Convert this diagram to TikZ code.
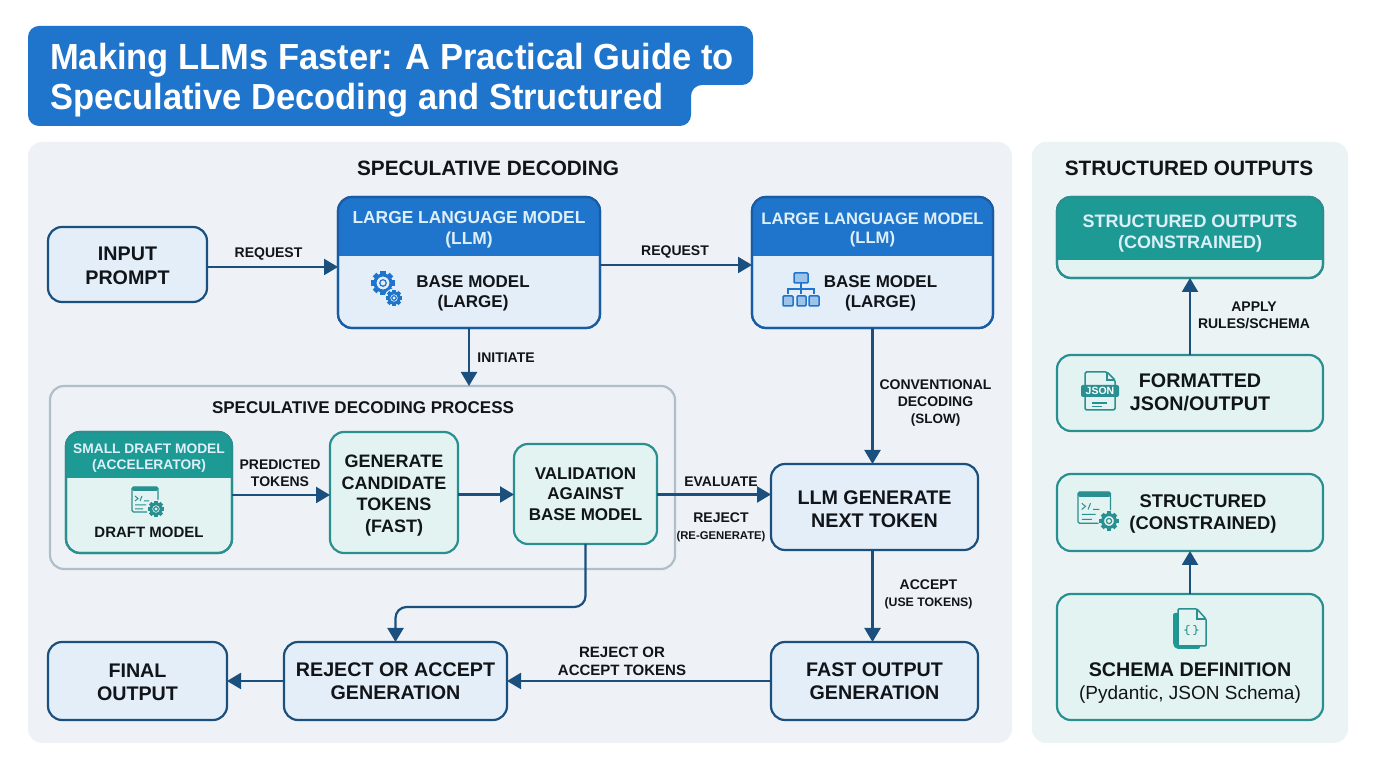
\documentclass[tikz,border=0pt]{standalone}
\usepackage{fontspec}
\setmainfont{Liberation Sans}
\usetikzlibrary{positioning,arrows.meta}

\definecolor{navy}{HTML}{1A4F7E}
\definecolor{llmblue}{HTML}{1F74CC}
\definecolor{llmedge}{HTML}{1A5CA4}
\definecolor{bluefill}{HTML}{E3EEF8}
\definecolor{tealhead}{HTML}{1E9A94}
\definecolor{tealedge}{HTML}{2A8F90}
\definecolor{tealfill}{HTML}{E2F3F2}
\definecolor{panelgrey}{HTML}{EEF2F6}
\definecolor{panelteal}{HTML}{ECF3F5}
\definecolor{frameedge}{HTML}{AFBECB}
\definecolor{headtext}{HTML}{DDF0FA}
\definecolor{inktext}{HTML}{111418}

\tikzset{
  fsize/.style={font=\bfseries\pgfmathsetmacro\lineh{#1*1.19}\fontsize{#1}{\lineh}\selectfont},
  panel/.style={fill=#1,rounded corners=14pt,inner sep=0pt,outer sep=0pt},
  bluebox/.style={draw=navy,fill=bluefill,line width=2.2pt,rounded corners=14pt,inner sep=0pt,outer sep=0pt,align=center,text=inktext,fsize=19.7},
  tealbox/.style={bluebox,draw=tealedge,fill=tealfill},
  flow/.style={draw=navy,line width=2.2pt,-{Triangle[length=14pt,width=16pt]}},
  lbl/.style={align=center,text=inktext,fsize=14,inner sep=0pt},
  headtxt/.style={align=center,text=headtext,inner sep=0pt},
  boxtxt/.style={align=center,text=inktext,inner sep=0pt},
  pics/gearpic/.style n args={2}{code={
    \foreach \ang in {0,45,...,315}
      \fill[#1,rotate=\ang] (-2.1,6) rectangle (2.1,9.6);
    \draw[#1,fill=#2,line width=3pt] (0,0) circle (6.4);
    \draw[#1,line width=1.2pt] (0,0) circle (2.6);
  }},
  pics/windowpic/.style={code={
    \draw[tealedge,line width=1.3pt,rounded corners=1.5pt] (0,0) rectangle (26,-25);
    \fill[tealedge,rounded corners=1.5pt] (0,0) rectangle (26,-4);
    \draw[tealedge,line width=1pt] (3,-9) -- (6,-11.5) -- (3,-14) (8,-14) -- (10,-9) (12,-14) -- (17,-14)
      (3,-18) -- (14,-18) (3,-22) -- (11,-22);
  }},
}

% zero width strut that pushes the lines of a box down
\newcommand{\dropby}[1]{\rule{0pt}{#1pt}}

% header strip of a box, then its edge again on top
\newcommand{\headband}[4]{
  \fill[#3,rounded corners=14pt] (#1.north west) ++(0,-#2) -- (#1.north west) -- (#1.north east) -- ++(0,-#2);
  \draw[#4,line width=2.2pt,rounded corners=14pt] (#1.north west) rectangle (#1.south east);
}

\begin{document}
\begin{tikzpicture}[x=1pt,y=1pt]
\useasboundingbox (0,0) rectangle (1376,768);
\fill[white] (0,0) rectangle (1376,768);

% title
\fill[llmblue,rounded corners=11pt] (28,742) -- (753,742) -- (753,683) -- (691,683) -- (691,642) -- (28,642) -- cycle;
\node[anchor=west,align=left,text=white,inner sep=0pt,font=\bfseries\addfontfeature{FakeStretch=.95}\fontsize{36.3}{40}\selectfont] (title) at (50,688) {Making LLMs Faster: A Practical Guide to\\Speculative Decoding and Structured};

% panels
\node[panel=panelgrey,minimum width=984pt,minimum height=601pt] (specpanel) at (520,325.5) {};
\node[panel=panelteal,minimum width=316pt,minimum height=601pt] (structpanel) at (1190,325.5) {};
\node[fsize=20.8,text=inktext,inner sep=0pt] (spechead) at (488,600) {SPECULATIVE DECODING};
\node[fsize=20.8,text=inktext,inner sep=0pt] (structhead) at (1189,600) {STRUCTURED OUTPUTS};

% main row
\node[bluebox,minimum width=159pt,minimum height=75pt] (input) at (127.5,503.5) {\dropby{16}INPUT\\PROMPT};
\node[bluebox,draw=llmedge,minimum width=262pt,minimum height=131pt] (llma) [right=131pt of input,yshift=2pt] {};
\node[bluebox,draw=llmedge,minimum width=241pt,minimum height=131pt] (llmb) [right=152pt of llma] {};
\headband{llma}{59}{llmblue}{llmedge}
\headband{llmb}{59}{llmblue}{llmedge}
\node[headtxt,fsize=17.4] (llmahead) at ([yshift=32.5pt]llma.center) {LARGE LANGUAGE MODEL\\(LLM)};
\node[headtxt,fsize=16.6] (llmbhead) at ([yshift=32.5pt]llmb.center) {LARGE LANGUAGE MODEL\\(LLM)};
\node[boxtxt,fsize=17] (llmatext) at ([xshift=4pt,yshift=-31pt]llma.center) {BASE MODEL\\(LARGE)};
\node[boxtxt,fsize=17] (llmbtext) at ([xshift=8pt,yshift=-31pt]llmb.center) {BASE MODEL\\(LARGE)};

% process frame
\node[draw=frameedge,line width=2.2pt,rounded corners=14pt,inner sep=0pt,outer sep=0pt,minimum width=625pt,minimum height=183pt] (procframe) [below=58pt of llma,xshift=-106.5pt] {};
\node[fsize=17,text=inktext,inner sep=0pt] (prochead) at (363,360) {SPECULATIVE DECODING PROCESS};
\node[tealbox,minimum width=166pt,minimum height=121pt] (draftm) at (149,275.5) {};
\headband{draftm}{46}{tealhead}{tealedge}
\node[headtxt,fsize=13.8] (drafthead) at ([yshift=34.5pt]draftm.center) {SMALL DRAFT MODEL\\(ACCELERATOR)};
\node[boxtxt,fsize=15] (drafttext) [below=54pt of drafthead] {DRAFT MODEL};
\node[tealbox,fsize=18,minimum width=128pt,minimum height=121pt] (generate) [right=98pt of draftm] {\dropby{19}GENERATE\\CANDIDATE\\TOKENS\\(FAST)};
\node[tealbox,fsize=17,minimum width=143pt,minimum height=100pt] (valid) [right=56pt of generate,yshift=-1.5pt] {VALIDATION\\AGAINST\\BASE MODEL};

% right side and bottom row
\node[bluebox,minimum width=207pt,minimum height=86pt] (nexttok) [below=136pt of llmb,xshift=2pt] {\dropby{18}LLM GENERATE\\NEXT TOKEN};
\node[bluebox,minimum width=207pt,minimum height=78pt] (fastout) [below=92pt of nexttok] {FAST OUTPUT\\GENERATION};
\node[bluebox,minimum width=223pt,minimum height=78pt] (rejectgen) [left=264pt of fastout] {REJECT OR ACCEPT\\GENERATION};
\node[bluebox,minimum width=179pt,minimum height=78pt] (finalout) [left=57pt of rejectgen] {\dropby{16}FINAL\\OUTPUT};

% structured outputs column
\node[tealbox,minimum width=266pt,minimum height=81pt] (outputs) at (1190,530.5) {};
\headband{outputs}{63}{tealhead}{tealedge}
\node[headtxt,fsize=18] (outputshead) at ([yshift=4pt]outputs.center) {STRUCTURED OUTPUTS\\(CONSTRAINED)};
\node[tealbox,minimum width=266pt,minimum height=76pt] (formatted) [below=77pt of outputs] {};
\node[boxtxt,fsize=19.7] (formattedtext) at ([xshift=10pt,yshift=.5pt]formatted.center) {FORMATTED\\JSON/OUTPUT};
\node[tealbox,minimum width=266pt,minimum height=77pt] (structured) [below=43pt of formatted] {};
\node[boxtxt,fsize=18.4] (structuredtext) at ([xshift=13pt,yshift=-1.5pt]structured.center) {STRUCTURED\\(CONSTRAINED)};
\node[tealbox,minimum width=266pt,minimum height=126pt] (schema) [below=43pt of structured] {};
\node[boxtxt,fsize=19.7] (schematext) at ([yshift=-26pt]schema.center) {SCHEMA DEFINITION\\{\fontsize{19}{23}\mdseries\selectfont (Pydantic, JSON Schema)}};

% connectors
\path[every edge/.style={flow}]
  ([yshift=-2.5pt]input.east) edge node[lbl,xshift=-4pt,yshift=13pt] (reqa) {REQUEST} ([yshift=-2.5pt]input.east -| llma.west)
  ([yshift=-2.5pt]llma.east) edge node[lbl,xshift=-1pt,yshift=13pt] (reqb) {REQUEST} ([yshift=-2.5pt]llma.east -| llmb.west)
  (llma.south) edge node[lbl,xshift=37pt,yshift=-0.5pt] (initiate) {INITIATE} (llma.south |- procframe.north)
  (llmb.south) edge node[lbl,xshift=63pt,yshift=-7pt] (convent) {CONVENTIONAL\\DECODING\\{\fontsize{13.5}{17}\selectfont (SLOW)}} (llmb.south |- nexttok.north)
  ([yshift=-2.5pt]draftm.east) edge node[lbl,xshift=-1pt,yshift=21.5pt] (predict) {PREDICTED\\TOKENS} ([yshift=-2.5pt]draftm.east -| generate.west)
  ([yshift=-2pt]generate.east) edge ([yshift=-2pt]generate.east -| valid.west)
  ([yshift=-.5pt]valid.east) edge node[lbl,xshift=7pt,yshift=13pt] (evaluate) {EVALUATE} ([yshift=-.5pt]valid.east -| nexttok.west)
  (nexttok.south -| llmb.south) edge node[lbl,xshift=56pt,yshift=1.5pt] (accept) {ACCEPT\\{\fontsize{12.3}{15}\selectfont (USE TOKENS)}} (fastout.north -| llmb.south)
  (fastout.west) edge node[lbl,fsize=15,xshift=-17pt,yshift=20pt] (rejacc) {REJECT OR\\ACCEPT TOKENS} (rejectgen.east)
  (rejectgen.west) edge (finalout.east)
  (formatted.north) edge node[lbl,xshift=64pt,yshift=1pt] (applyrules) {APPLY\\RULES/SCHEMA} (outputs.south)
  (schema.north) edge (structured.south);
\draw[flow,rounded corners=11pt] (valid.south) -- ++(0,-63) -| (rejectgen.north);
\node[lbl] (rejecttxt) at (721,240.5) {REJECT\\{\fontsize{11.3}{15}\selectfont (RE-GENERATE)}};

% icons
\pic[scale=1.25] at (383,485) {gearpic={llmblue}{bluefill}};
\fill[bluefill] (394,470) circle (9.5);
\pic[scale=.85] at (394,470) {gearpic={llmblue}{bluefill}};

\draw[llmblue,line width=1.4pt] (801,485) -- (801,479) (788,474) -- (788,479) -- (814,479) -- (814,474) (801,479) -- (801,474);
\draw[llmblue,fill=llmblue!35!bluefill,line width=1.5pt,rounded corners=1pt]
  (794,495) rectangle (808,485) (783,472) rectangle (793,462) (797,472) rectangle (806,462) (809,472) rectangle (819,462);

\pic at (132,281) {windowpic};
\fill[tealfill] (156,259) circle (9.5);
\pic[scale=.85] at (156,259) {gearpic={tealedge}{tealfill}};

\pic[scale=1.25] at (1078,276) {windowpic};
\fill[tealfill] (1109,247) circle (11);
\pic at (1109,247) {gearpic={tealedge}{tealfill}};

\draw[tealedge,fill=tealfill,line width=1.5pt,rounded corners=1.5pt] (1085,396) -- (1107,396) -- (1115,388) -- (1115,358) -- (1085,358) -- cycle;
\draw[tealedge,line width=1.2pt] (1107,396) -- (1107,388) -- (1115,388) (1092,365) -- (1107,365) (1092,361.5) -- (1102,361.5);
\fill[tealedge,rounded corners=2pt] (1081,383) rectangle (1119,371);
\node[text=white,inner sep=0pt,font=\bfseries\fontsize{10.5}{12}\selectfont] (jsontag) at (1100,377) {JSON};

\fill[tealhead,rounded corners=2pt] (1173,155) -- (1173,123) -- (1176,119) -- (1200,119) -- (1200,155) -- cycle;
\draw[tealedge,fill=tealfill,line width=1.5pt,rounded corners=1pt] (1178,159) -- (1197,159) -- (1206,149) -- (1206,122) -- (1178,122) -- cycle;
\draw[tealedge,line width=1.2pt] (1197,159) -- (1197,149) -- (1206,149);
\node[text=tealedge,inner sep=0pt,font=\ttfamily\bfseries\fontsize{13}{15}\selectfont] (bracetag) at (1191.5,137) {\{\,\}};

\end{tikzpicture}
\end{document}
